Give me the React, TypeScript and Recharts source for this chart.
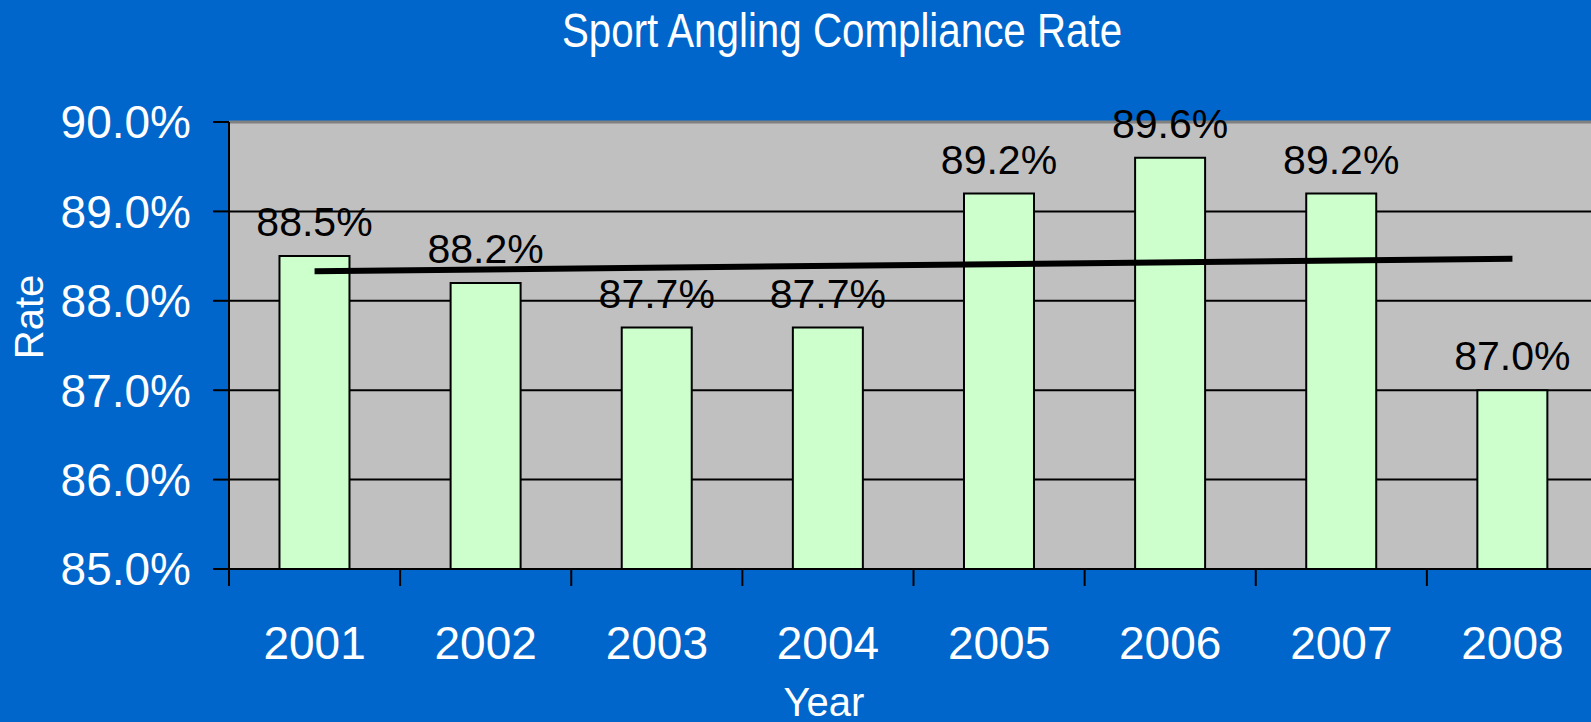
import React from "react";
import {
  ComposedChart,
  Bar,
  Line,
  XAxis,
  YAxis,
  CartesianGrid,
  ReferenceLine,
  LabelList,
} from "recharts";

const years = ["2001", "2002", "2003", "2004", "2005", "2006", "2007", "2008"];
const rates = [88.5, 88.2, 87.7, 87.7, 89.2, 89.6, 89.2, 87.0];
const trend = [88.33, null, null, null, null, null, null, 88.47];
const yTicks = [85, 86, 87, 88, 89, 90];

const W = 1600;
const H = 722;
const LEFT = 229;
const RIGHT_MARGIN = 2;
const BAND = (W - RIGHT_MARGIN - LEFT) / years.length;
const FONT = '"Liberation Sans", Arial, sans-serif';

const data = years.map((year, i) => ({
  year,
  rate: rates[i],
  trend: trend[i],
}));

const pct = (v: number) => v.toFixed(1) + "%";

const XTick = (props: any) => {
  const { x, y, payload } = props;
  return (
    <g>
      <line
        x1={x - BAND / 2}
        x2={x - BAND / 2}
        y1={y}
        y2={y + 17}
        stroke="#000"
        strokeWidth={2}
      />
      <text
        x={x}
        y={y + 90}
        textAnchor="middle"
        fill="#fff"
        fontSize={46}
        fontFamily={FONT}
      >
        {payload.value}
      </text>
    </g>
  );
};

export default function App() {
  return (
    <div
      style={{
        position: "fixed",
        left: 0,
        top: 0,
        width: 1591,
        height: 722,
        overflow: "hidden",
        background: "#0066CC",
        fontFamily: FONT,
      }}
    >
      <ComposedChart
        width={W}
        height={H}
        data={data}
        margin={{ top: 122, right: RIGHT_MARGIN, bottom: 53, left: 0 }}
        barCategoryGap="29.5%"
      >
        <CartesianGrid
          vertical={false}
          horizontalValues={yTicks.slice(1, -1)}
          stroke="#000"
          strokeWidth={2}
          fill="#C0C0C0"
          fillOpacity={1}
        />
        <ReferenceLine y={90} stroke="#808080" strokeWidth={3} />
        <XAxis
          dataKey="year"
          height={100}
          tickLine={false}
          tickSize={0}
          tickMargin={0}
          axisLine={{ stroke: "#000", strokeWidth: 2 }}
          tick={<XTick />}
          interval={0}
        />
        <YAxis
          width={LEFT}
          domain={[85, 90]}
          ticks={yTicks}
          allowDataOverflow
          tickFormatter={pct}
          tickSize={16}
          tickMargin={22}
          axisLine={{ stroke: "#000", strokeWidth: 2 }}
          tickLine={{ stroke: "#000", strokeWidth: 2 }}
          tick={{ fill: "#fff", fontSize: 46, fontFamily: FONT }}
        />
        <Bar
          dataKey="rate"
          fill="#CCFFCC"
          stroke="#000"
          strokeWidth={2}
          isAnimationActive={false}
        >
          <LabelList
            dataKey="rate"
            position="top"
            offset={20}
            fill="#000"
            fontSize={41}
            fontFamily={FONT}
            formatter={(v: any) => pct(Number(v))}
          />
        </Bar>
        <Line
          dataKey="trend"
          connectNulls
          stroke="#000"
          strokeWidth={6}
          dot={false}
          activeDot={false}
          isAnimationActive={false}
        />
      </ComposedChart>
      <svg
        width={1591}
        height={722}
        style={{ position: "absolute", left: 0, top: 0, pointerEvents: "none" }}
      >
        <text
          transform="translate(842 47) scale(0.84 1)"
          textAnchor="middle"
          fill="#fff"
          fontSize={48}
          fontFamily={FONT}
        >
          Sport Angling Compliance Rate
        </text>
        <text
          transform="translate(43 317) rotate(-90)"
          textAnchor="middle"
          fill="#fff"
          fontSize={40}
          fontFamily={FONT}
        >
          Rate
        </text>
        <text
          x={824}
          y={716}
          textAnchor="middle"
          fill="#fff"
          fontSize={40}
          fontFamily={FONT}
        >
          Year
        </text>
      </svg>
    </div>
  );
}
